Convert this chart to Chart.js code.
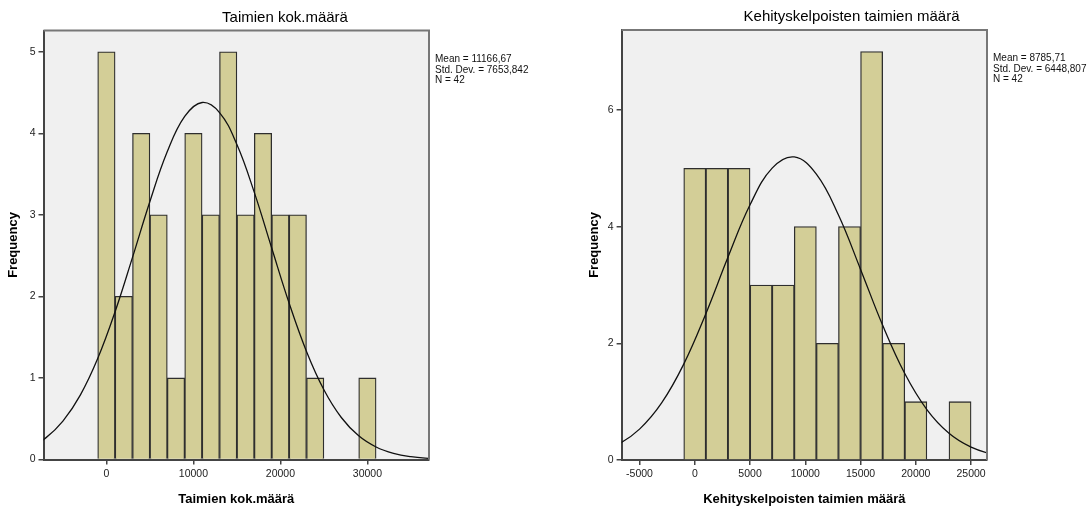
<!DOCTYPE html>
<html>
<head>
<meta charset="utf-8">
<script src="https://cdn.jsdelivr.net/npm/chart.js@4.4.1/dist/chart.umd.min.js"></script>
<style>
  html, body { margin: 0; padding: 0; background: #fff; overflow: hidden; }
  #wrap { position: relative; width: 1090px; height: 508px; overflow: hidden; }
  canvas { position: absolute; top: 0; }
  #leftChart { left: 0; }
  #rightChart { left: 570px; }
</style>
</head>
<body>
<div id="wrap">
  <canvas id="leftChart" width="570" height="508"></canvas>
  <canvas id="rightChart" width="563" height="508"></canvas>
</div>
<script>
// Taimien kok.määrä: bin centres (width 2000) and counts
const totalBins = [0, 2000, 4000, 6000, 8000, 10000, 12000, 14000, 16000, 18000, 20000, 22000, 24000, 26000, 28000, 30000];
const totalCounts = [5, 2, 4, 3, 1, 4, 3, 5, 3, 4, 3, 3, 1, 0, 0, 1];
// normal curve
const totalCurveX = [-9000, -7000, -5000, -3000, -1000, 1000, 3000, 5000, 7000, 9000, 11000, 13000, 15000, 17000, 19000, 21000, 23000, 25000, 27000, 29000, 31000, 33000, 35000, 37000, 39000];
const totalCurveY = [0.136, 0.262, 0.471, 0.790, 1.238, 1.812, 2.478, 3.164, 3.775, 4.206, 4.377, 4.254, 3.862, 3.275, 2.593, 1.918, 1.325, 0.855, 0.515, 0.290, 0.153, 0.075, 0.034, 0.015, 0.006];
const totalXTicks = [0, 10000, 20000, 30000];
const totalYTicks = [0, 1, 2, 3, 4, 5];
const totalStats = ['Mean = 11166,67', 'Std. Dev. = 7653,842', 'N = 42'];

// Kehityskelpoisten taimien määrä
const viableBins = [0, 2000, 4000, 6000, 8000, 10000, 12000, 14000, 16000, 18000, 20000, 22000, 24000];
const viableCounts = [5, 5, 5, 3, 3, 4, 2, 4, 7, 2, 1, 0, 1];
const viableCurveX = [-9000, -7000, -5000, -3000, -1000, 1000, 3000, 5000, 7000, 9000, 11000, 13000, 15000, 17000, 19000, 21000, 23000, 25000, 27000, 29000];
const viableCurveY = [0.116, 0.260, 0.529, 0.978, 1.643, 2.508, 3.475, 4.374, 5.002, 5.194, 4.899, 4.198, 3.267, 2.309, 1.482, 0.864, 0.458, 0.220, 0.096, 0.038];
const viableXTicks = [-5000, 0, 5000, 10000, 15000, 20000, 25000];
const viableYTicks = [0, 2, 4, 6];
const viableStats = ['Mean = 8785,71', 'Std. Dev. = 6448,807', 'N = 42'];

const FONT = '"Liberation Sans", Arial, sans-serif';

// grey plot background, top/right frame and the stats text
const plotFrame = {
  id: 'plotFrame',
  beforeDraw(chart) {
    const { ctx, chartArea: a } = chart;
    ctx.save();
    ctx.fillStyle = '#f0f0f0';
    ctx.fillRect(a.left, a.top, a.right - a.left, a.bottom - a.top);
    ctx.restore();
  },
  afterDraw(chart, args, opts) {
    const { ctx, chartArea: a } = chart;
    ctx.save();
    ctx.strokeStyle = '#777';
    ctx.lineWidth = 2;
    ctx.beginPath();
    ctx.moveTo(a.left, a.top);
    ctx.lineTo(a.right, a.top);
    ctx.lineTo(a.right, a.bottom);
    ctx.stroke();
    ctx.fillStyle = '#111';
    ctx.font = '10px ' + FONT;
    ctx.textBaseline = 'middle';
    opts.lines.forEach((t, i) => ctx.fillText(t, a.right + 6, opts.top + i * 10.8));
    ctx.restore();
  }
};

function histogram(id, o) {
  const axisColor = '#444';
  return new Chart(document.getElementById(id), {
    type: 'bar',
    data: {
      datasets: [
        {
          type: 'line',
          order: 0,
          data: o.curveX.map((x, i) => ({ x, y: o.curveY[i] })),
          borderColor: '#111',
          borderWidth: 1.3,
          pointRadius: 0,
          tension: 0.4,
          fill: false
        },
        {
          order: 1,
          data: o.bins.map((x, i) => ({ x, y: o.counts[i] })),
          backgroundColor: '#d3ce97',
          borderColor: '#2e2e2e',
          borderWidth: 1.3,
          barPercentage: 1,
          categoryPercentage: 1
        }
      ]
    },
    options: {
      responsive: false,
      animation: false,
      layout: { padding: 0 },
      plugins: {
        legend: { display: false },
        tooltip: { enabled: false },
        title: {
          display: true,
          text: o.title,
          color: '#000',
          font: { family: FONT, size: 15, weight: 'normal' },
          padding: o.titlePad
        },
        plotFrame: { lines: o.stats, top: o.statsTop }
      },
      scales: {
        x: {
          type: 'linear',
          min: o.xMin,
          max: o.xMax,
          offset: false,
          grid: { offset: false, drawOnChartArea: false, drawTicks: true, tickLength: 5, tickColor: axisColor, lineWidth: 1.5 },
          border: { display: true, color: axisColor, width: 2 },
          ticks: { autoSkip: false, maxRotation: 0, color: '#222', padding: 3, font: { family: FONT, size: 10.5 }, callback: v => String(v) },
          afterBuildTicks: s => { s.ticks = o.xTicks.map(v => ({ value: v })); },
          title: { display: true, text: o.xLabel, color: '#000', font: { family: FONT, size: 13, weight: 'bold' }, padding: { top: 0, bottom: o.xTitlePad } },
          afterFit: s => { s.height = o.xHeight; }
        },
        y: {
          min: 0,
          max: o.yMax,
          grid: { drawOnChartArea: false, drawTicks: true, tickLength: 5, tickColor: axisColor, lineWidth: 1.5 },
          border: { display: true, color: axisColor, width: 2 },
          ticks: { autoSkip: false, color: '#222', padding: 3, font: { family: FONT, size: 10.5 }, callback: v => String(v) },
          afterBuildTicks: s => { s.ticks = o.yTicks.map(v => ({ value: v })); },
          title: { display: true, text: 'Frequency', color: '#000', font: { family: FONT, size: 13, weight: 'bold' }, padding: { top: o.yTitlePad, bottom: 0 } },
          afterFit: s => { s.width = o.yWidth; }
        },
        // empty axis that only keeps room for the stats text
        gap: {
          type: 'linear',
          position: 'right',
          display: true,
          ticks: { display: false },
          grid: { display: false },
          border: { display: false },
          afterFit: s => { s.width = o.rightGap; }
        }
      }
    },
    plugins: [plotFrame]
  });
}

histogram('leftChart', {
  title: 'Taimien kok.määrä',
  xLabel: 'Taimien kok.määrä',
  bins: totalBins, counts: totalCounts,
  curveX: totalCurveX, curveY: totalCurveY,
  xTicks: totalXTicks, yTicks: totalYTicks,
  stats: totalStats, statsTop: 59,
  xMin: -7230, xMax: 37080,
  yMax: 5.26,
  titlePad: { top: 9.3, bottom: 3.2 },
  yWidth: 43.5, xHeight: 48.5, rightGap: 141,
  yTitlePad: 5.7, xTitlePad: 1
});

histogram('rightChart', {
  title: 'Kehityskelpoisten taimien määrä',
  xLabel: 'Kehityskelpoisten taimien määrä',
  bins: viableBins, counts: viableCounts,
  curveX: viableCurveX, curveY: viableCurveY,
  xTicks: viableXTicks, yTicks: viableYTicks,
  stats: viableStats, statsTop: 58,
  xMin: -6623, xMax: 26440,
  yMax: 7.37,
  titlePad: { top: 7.7, bottom: 4.3 },
  yWidth: 51.6, xHeight: 48, rightGap: 146,
  yTitlePad: 16.7, xTitlePad: 0.5
});
</script>
</body>
</html>
